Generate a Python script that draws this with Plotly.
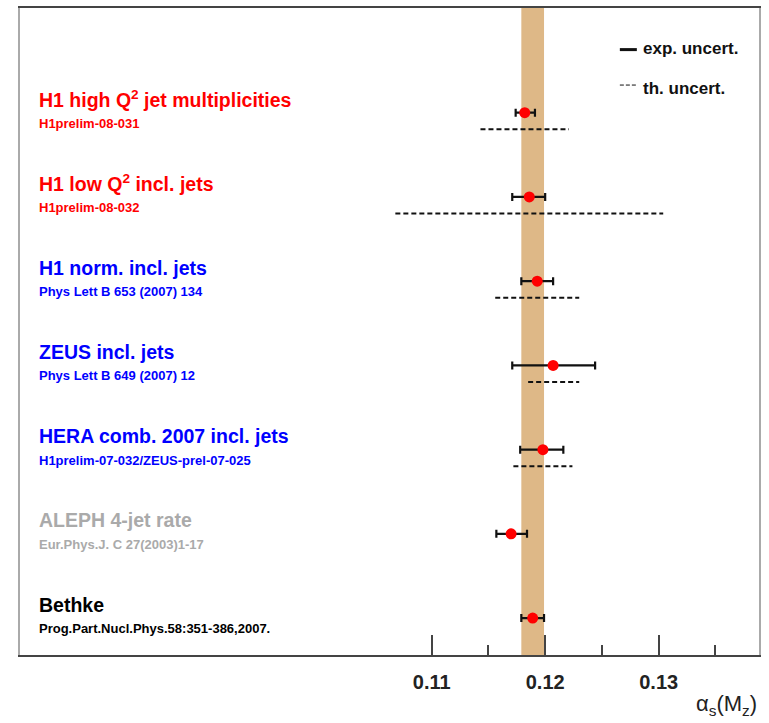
import plotly.graph_objects as go

# ---------------- data ----------------
names = [
    "H1 high Q<sup>2</sup> jet multiplicities",
    "H1 low Q<sup>2</sup> incl. jets",
    "H1 norm. incl. jets",
    "ZEUS incl. jets",
    "HERA comb. 2007 incl. jets",
    "ALEPH 4-jet rate",
    "Bethke",
]
refs = [
    "H1prelim-08-031",
    "H1prelim-08-032",
    "Phys Lett B 653 (2007) 134",
    "Phys Lett B 649 (2007) 12",
    "H1prelim-07-032/ZEUS-prel-07-025",
    "Eur.Phys.J. C 27(2003)1-17",
    "Prog.Part.Nucl.Phys.58:351-386,2007.",
]
label_colors = ["#ff0000", "#ff0000", "#0000ff", "#0000ff", "#0000ff", "#aaaaaa", "#000000"]

alpha_s = [0.1182, 0.1186, 0.1193, 0.1207, 0.1198, 0.1170, 0.1189]
exp_minus = [0.0008, 0.0015, 0.0014, 0.0036, 0.0020, 0.0013, 0.0010]
exp_plus = [0.0009, 0.0014, 0.0014, 0.0037, 0.0018, 0.0014, 0.0010]
th_minus = [0.0039, 0.0118, 0.0037, 0.0022, 0.0026, None, None]
th_plus = [0.0039, 0.0118, 0.0037, 0.0023, 0.0026, None, None]

world_avg = 0.1189
world_err = 0.0010

tick_vals = [0.11, 0.12, 0.13]
minor_tick_vals = [0.115, 0.125, 0.135]

# ---------------- style ----------------
FONT = "Liberation Sans, Arial, sans-serif"
rows = list(range(len(names)))
TH_OFFSET = 0.197
MAIN_OFFSET = -0.16
SUB_OFFSET = 0.125

fig = go.Figure()

# theory uncertainty dashed lines
th_x, th_y = [], []
for r, c, m, p in zip(rows, alpha_s, th_minus, th_plus):
    if m is None:
        continue
    th_x += [c - m, c + p, None]
    th_y += [r + TH_OFFSET, r + TH_OFFSET, None]
fig.add_trace(go.Scatter(
    x=th_x, y=th_y, mode="lines",
    line=dict(color="#111111", width=2, dash="5px,3px"),
    hoverinfo="skip", showlegend=False,
))

# central values with experimental uncertainties
fig.add_trace(go.Scatter(
    x=alpha_s, y=rows, mode="markers",
    marker=dict(color="#ff0000", size=11, line=dict(width=0)),
    error_x=dict(type="data", symmetric=False, array=exp_plus, arrayminus=exp_minus,
                 color="#111111", thickness=2.2, width=4),
    showlegend=False,
))

# world average band
fig.add_shape(type="rect", xref="x", yref="paper",
              x0=world_avg - world_err, x1=world_avg + world_err, y0=0, y1=1,
              fillcolor="#deb887", line=dict(width=0), layer="below")

# labels
for r, n, s, col in zip(rows, names, refs, label_colors):
    fig.add_annotation(x=0.023, xref="paper", y=r + MAIN_OFFSET, yref="y",
                       text=f"<b>{n}</b>", showarrow=False, xanchor="left", yanchor="middle",
                       font=dict(family=FONT, size=19.5, color=col))
    fig.add_annotation(x=0.023, xref="paper", y=r + SUB_OFFSET, yref="y",
                       text=f"<b>{s}</b>", showarrow=False, xanchor="left", yanchor="middle",
                       font=dict(family=FONT, size=13, color=col))

# custom legend
fig.add_shape(type="line", xref="paper", yref="paper", x0=0.8117, x1=0.8347, y0=0.9357, y1=0.9357,
              line=dict(color="#111111", width=3))
fig.add_shape(type="line", xref="paper", yref="paper", x0=0.8117, x1=0.8347, y0=0.8809, y1=0.8809,
              line=dict(color="#111111", width=1, dash="4px,2px"))
fig.add_annotation(x=0.840, xref="paper", y=0.9368, yref="paper", text="<b>exp. uncert.</b>",
                   showarrow=False, xanchor="left", yanchor="middle",
                   font=dict(family=FONT, size=17, color="#111111"))
fig.add_annotation(x=0.840, xref="paper", y=0.8752, yref="paper", text="<b>th. uncert.</b>",
                   showarrow=False, xanchor="left", yanchor="middle",
                   font=dict(family=FONT, size=17, color="#111111"))

# axis title
fig.add_annotation(x=1.0, xref="paper", y=-0.077, yref="paper",
                   text="α<sub>s</sub>(M<sub>z</sub>)", showarrow=False,
                   xanchor="right", yanchor="middle",
                   font=dict(family=FONT, size=22, color="#222222"))

fig.update_layout(
    width=769, height=723,
    margin=dict(l=20, r=10, t=6, b=68),
    paper_bgcolor="white", plot_bgcolor="white",
    xaxis=dict(
        range=[0.07373, 0.13884], showgrid=False, zeroline=False,
        showline=True, mirror=True, linecolor="#444444", linewidth=2,
        tickmode="array", tickvals=tick_vals, ticktext=[f"{v:.2f}" for v in tick_vals],
        ticks="inside", ticklen=20, tickwidth=1.5, tickcolor="#444444",
        ticklabelstandoff=8,
        tickfont=dict(family=FONT, size=20, color="#222222", weight="bold"),
        minor=dict(tickmode="array", tickvals=minor_tick_vals, ticks="inside",
                   ticklen=10, tickwidth=1.5, tickcolor="#444444", showgrid=False),
    ),
    yaxis=dict(
        range=[6.438, -1.243], showgrid=False, zeroline=False,
        showline=True, mirror=True, linecolor="#aaaaaa", linewidth=1.5,
        showticklabels=False, ticks="",
    ),
)

fig.write_html("out.html", config={"displayModeBar": False},
               post_script="document.body.style.margin='0px';")
